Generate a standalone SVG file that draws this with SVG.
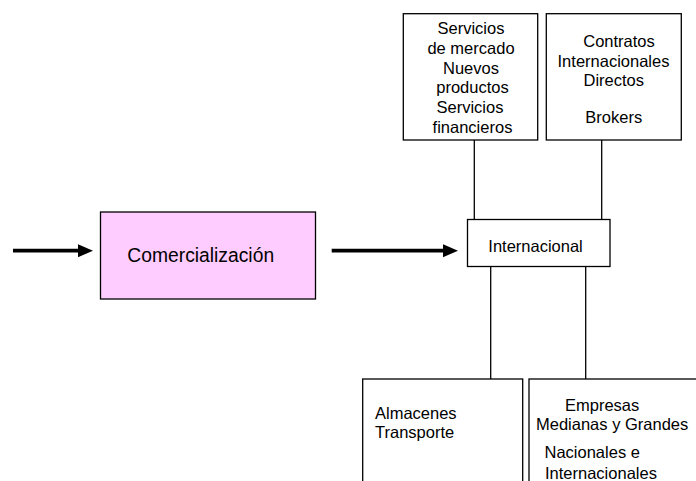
<svg xmlns="http://www.w3.org/2000/svg" width="696" height="481" viewBox="0 0 696 481">
  <style>
    .box { fill: #ffffff; stroke: #000000; stroke-width: 1.3; }
    .pink { fill: #ffccff; }
    .lbl { font-family: "Liberation Sans", Arial, sans-serif; font-size: 16.5px; fill: #000000; }
    .mid { text-anchor: middle; }
    .link { stroke: #000000; stroke-width: 1.3; fill: none; }
    .flow { stroke: #000000; stroke-width: 3.8; fill: none; }
  </style>
  <defs>
    <!-- arrowhead drawn beyond the line end, base at the end point -->
    <marker id="head" markerUnits="userSpaceOnUse" markerWidth="16" markerHeight="14" refX="1" refY="7" orient="auto">
      <polygon points="0,0.5 15,7 0,13.5" fill="#000000"/>
    </marker>
  </defs>

  <rect width="696" height="481" fill="#ffffff"/>

  <!-- connectors -->
  <g id="connectors">
    <line class="flow" x1="13" y1="250.7" x2="79" y2="250.7" marker-end="url(#head)"/>
    <line class="flow" x1="331.7" y1="250.7" x2="444" y2="250.7" marker-end="url(#head)"/>
    <line class="link" x1="474.3" y1="140" x2="474.3" y2="219.5"/>
    <line class="link" x1="601.7" y1="140" x2="601.7" y2="219.5"/>
    <line class="link" x1="490.7" y1="266.5" x2="490.7" y2="379"/>
    <line class="link" x1="585.7" y1="266.5" x2="585.7" y2="379"/>
  </g>

  <!-- Comercialización -->
  <g id="comercializacion">
    <rect class="box pink" x="100.5" y="212" width="215" height="87"/>
    <text class="lbl" x="127.3" y="261.7" style="font-size:19.3px">Comercialización</text>
  </g>

  <!-- Internacional -->
  <g id="internacional">
    <rect class="box" x="467.5" y="219.5" width="142.5" height="47"/>
    <text class="lbl" x="488.3" y="252.3">Internacional</text>
  </g>

  <!-- Servicios -->
  <g id="servicios">
    <rect class="box" x="403.3" y="13.7" width="134.4" height="126.3"/>
    <text class="lbl mid" x="471" y="34">Servicios</text>
    <text class="lbl mid" x="471" y="54">de mercado</text>
    <text class="lbl mid" x="471" y="73.5">Nuevos</text>
    <text class="lbl mid" x="472.5" y="93">productos</text>
    <text class="lbl mid" x="470" y="113">Servicios</text>
    <text class="lbl mid" x="472.5" y="133">financieros</text>
  </g>

  <!-- Contratos -->
  <g id="contratos">
    <rect class="box" x="546.3" y="13.7" width="135" height="126.3"/>
    <text class="lbl mid" x="619" y="47.3">Contratos</text>
    <text class="lbl mid" x="613.5" y="66.7">Internacionales</text>
    <text class="lbl mid" x="613.8" y="86">Directos</text>
    <text class="lbl mid" x="613.8" y="123.3">Brokers</text>
  </g>

  <!-- Almacenes -->
  <g id="almacenes">
    <rect class="box" x="362.7" y="379" width="160" height="120"/>
    <text class="lbl" x="375" y="419">Almacenes</text>
    <text class="lbl" x="375" y="438">Transporte</text>
  </g>

  <!-- Empresas -->
  <g id="empresas">
    <rect class="box" x="529" y="379" width="180" height="120"/>
    <text class="lbl" x="565" y="411">Empresas</text>
    <text class="lbl" x="536" y="430">Medianas y Grandes</text>
    <text class="lbl" x="544.5" y="458">Nacionales e</text>
    <text class="lbl" x="545" y="479">Internacionales</text>
  </g>
</svg>
